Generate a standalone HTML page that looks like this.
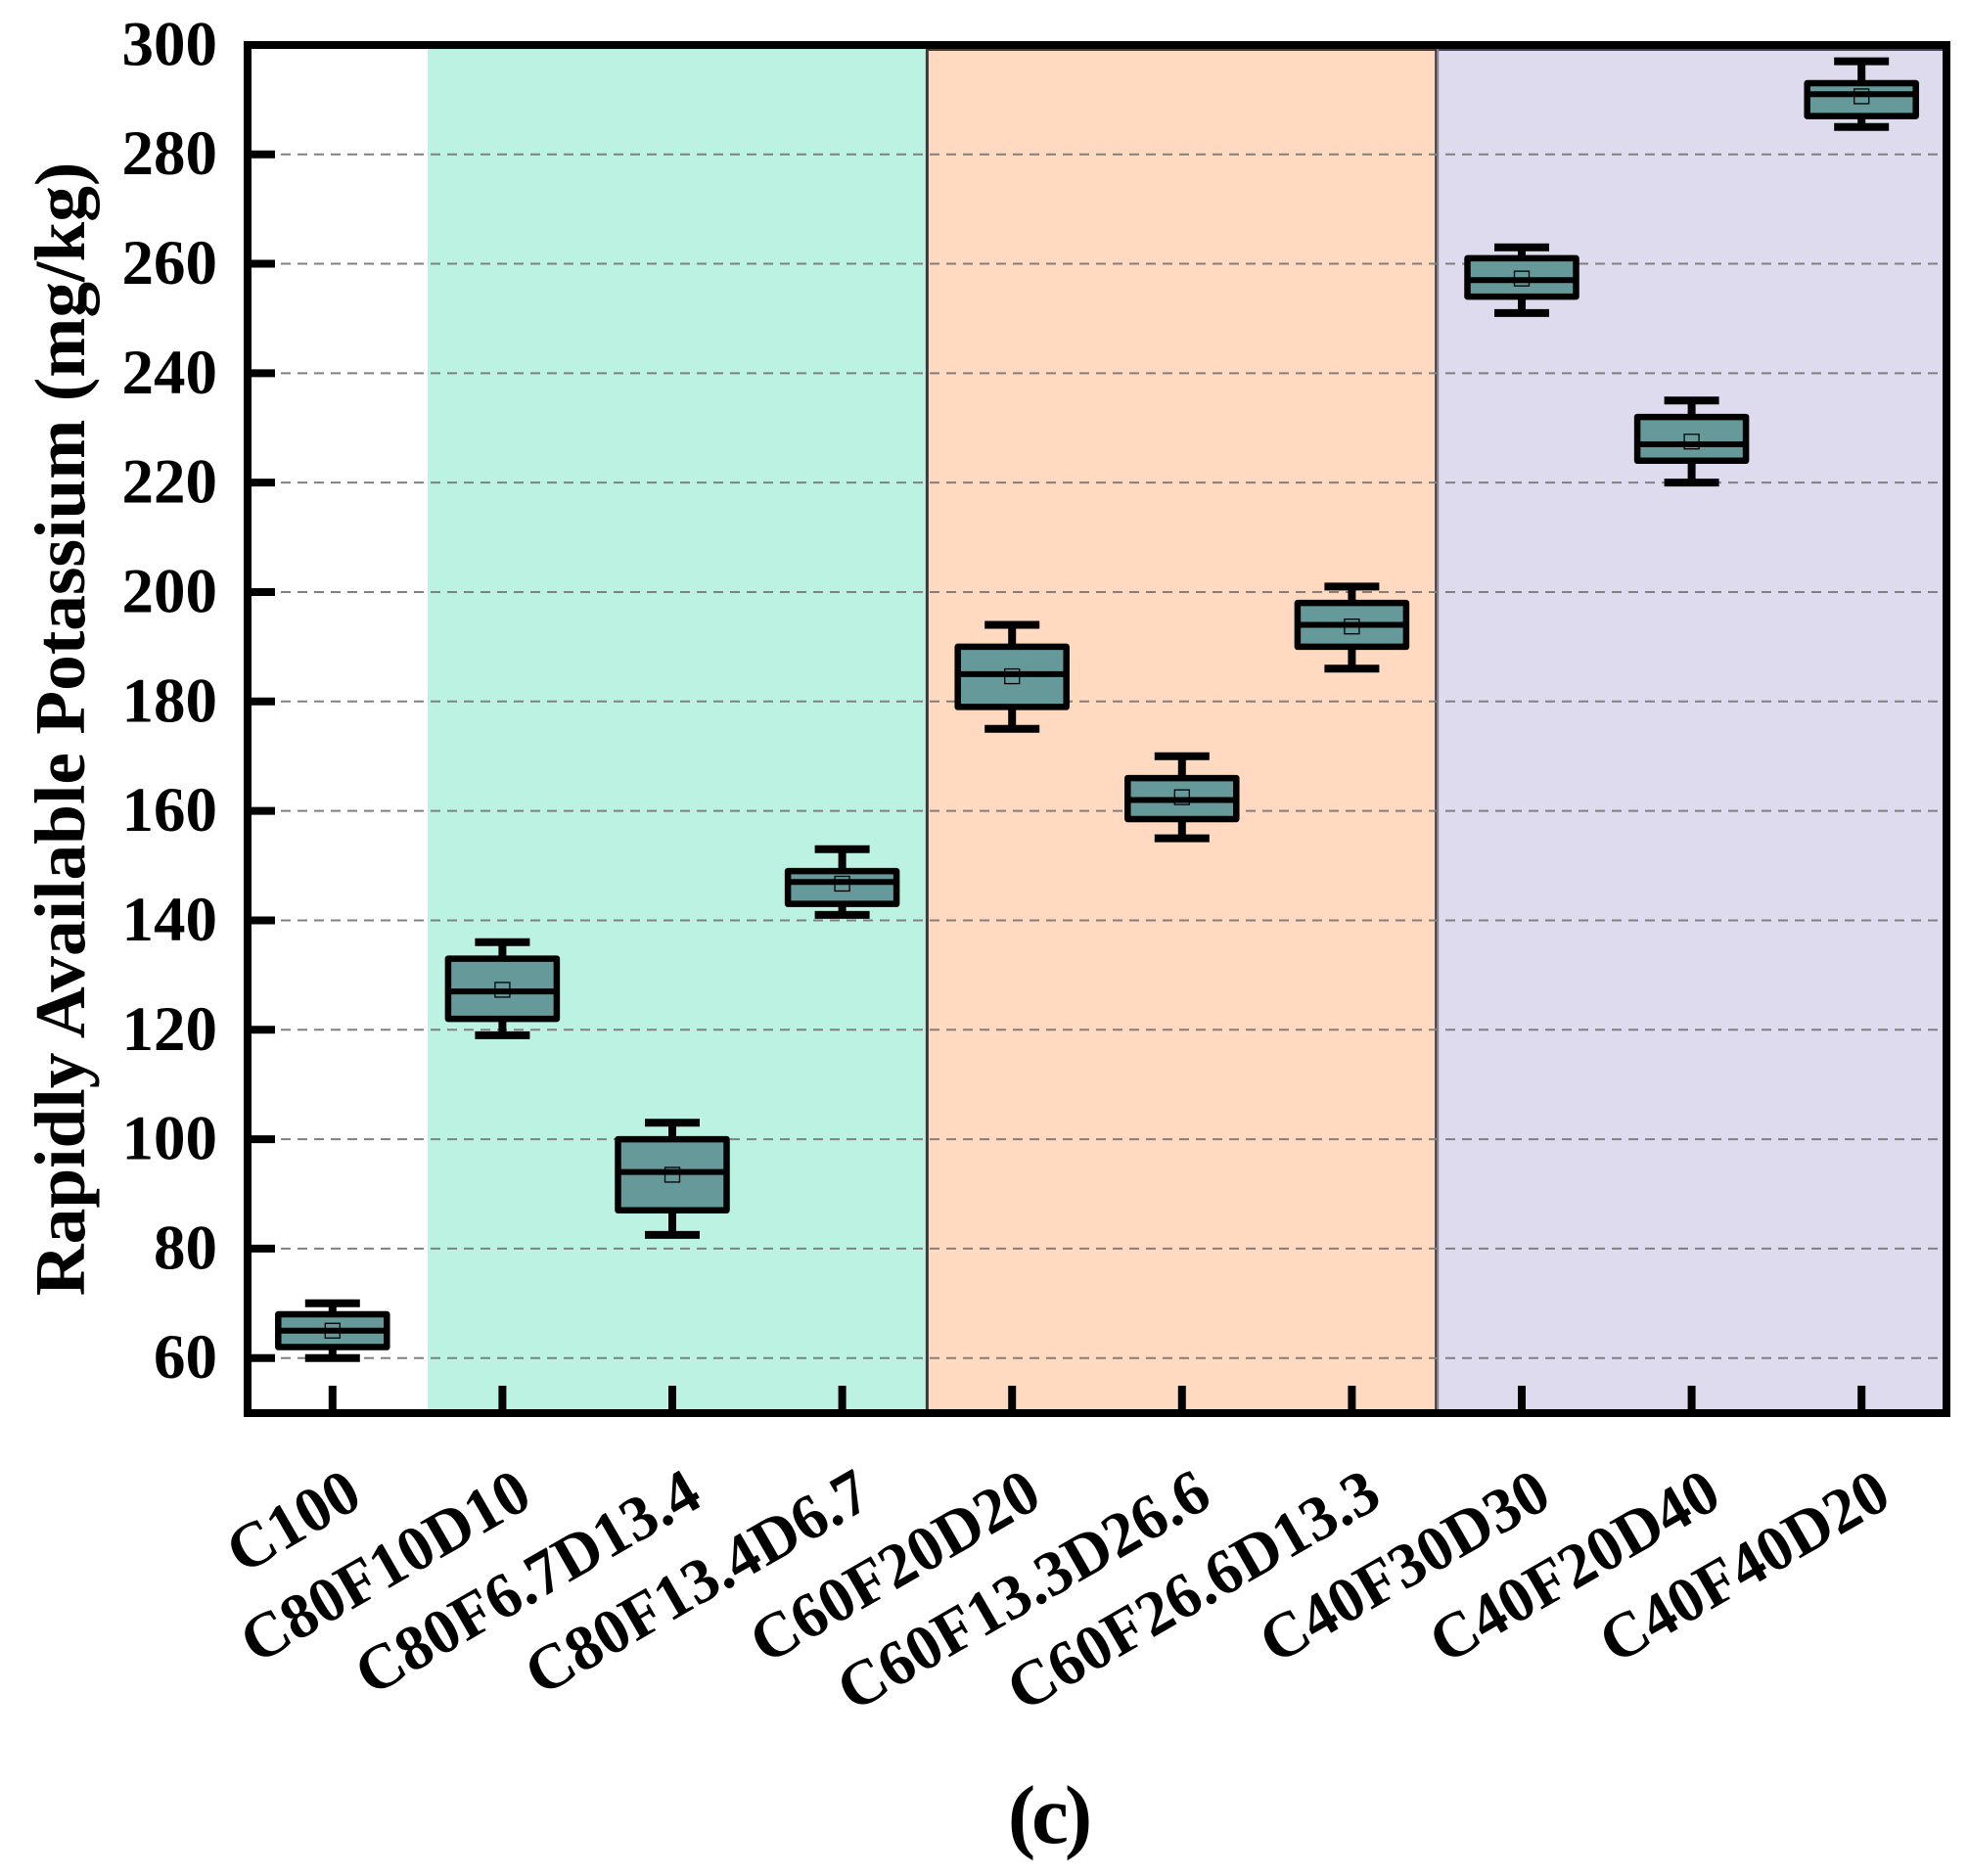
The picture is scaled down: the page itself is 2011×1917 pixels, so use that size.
<!DOCTYPE html>
<html lang="en">
<head>
<meta charset="utf-8">
<title>Rapidly Available Potassium box plot</title>
<style>
  html, body { margin: 0; padding: 0; background: #ffffff; }
  body { width: 2011px; height: 1917px; overflow: hidden; }
  svg { display: block; }
  text { font-family: "Liberation Serif", serif; font-weight: bold; fill: #000000; }
</style>
</head>
<body>
<svg id="chart" xmlns="http://www.w3.org/2000/svg" width="2011" height="1917" viewBox="0 0 2011 1917"></svg>
<script>
const categories = ["C100", "C80F10D10", "C80F6.7D13.4", "C80F13.4D6.7", "C60F20D20", "C60F13.3D26.6", "C60F26.6D13.3", "C40F30D30", "C40F20D40", "C40F40D20"];
const whiskerHigh = [70, 136, 103, 153, 194, 170, 201, 263, 235, 297];
const whiskerLow = [60, 119, 82.5, 141, 175, 155, 186, 251, 220, 285];
const boxTop = [68, 133, 100, 149, 190, 166, 198, 261, 232, 293];
const boxBottom = [62, 122, 87, 143, 179, 158.5, 190, 254, 224, 287];
const medians = [65, 127, 94, 147, 185, 162, 194, 257, 227, 291];
const means = [65, 127.3, 93.5, 146.7, 184.6, 162.5, 193.7, 257.3, 227.5, 290.6];
const yTicks = [60, 80, 100, 120, 140, 160, 180, 200, 220, 240, 260, 280, 300];

const svg = document.getElementById('chart');
const NS = 'http://www.w3.org/2000/svg';

function xScale(i) { return 339.8 + 173.6 * i; }
function yScale(v) { return 157.7 + (280 - v) * 5.591; }

function make(tag, attrs, parent) {
  const el = document.createElementNS(NS, tag);
  for (const k in attrs) el.setAttribute(k, attrs[k]);
  (parent || svg).appendChild(el);
  return el;
}

const plotTop = yScale(300);
const plotBottom = yScale(50);

/* treatment-group background bands, bounded in category units */
const zoneGreen = make('rect', { x: xScale(0.56), y: plotTop, width: xScale(3.5) - xScale(0.56), height: plotBottom - plotTop, fill: '#bcf2e2' });



const zoneOrange = make('rect', { x: xScale(3.5), y: plotTop, width: xScale(6.5) - xScale(3.5), height: plotBottom - plotTop, fill: '#ffdac0' });



const zonePurple = make('rect', { x: xScale(6.5), y: plotTop, width: xScale(9.5) - xScale(6.5), height: plotBottom - plotTop, fill: '#dedbee' });



const orangeTopEdge = make('rect', { x: xScale(3.5), y: 50, width: xScale(6.5) - xScale(3.5), height: 2, fill: '#4a3f38' });



const purpleTopEdge = make('rect', { x: xScale(6.5), y: 50, width: xScale(9.5) - xScale(6.5), height: 2, fill: '#47454f' });



const divider1 = make('rect', { x: xScale(3.5) - 1.5, y: plotTop, width: 3, height: plotBottom - plotTop, fill: '#3c3a38' });



const divider2 = make('rect', { x: xScale(6.5) - 2, y: plotTop, width: 2, height: plotBottom - plotTop, fill: '#3c3a38' });



const divider2b = make('rect', { x: xScale(6.5), y: plotTop, width: 2, height: plotBottom - plotTop, fill: '#87828f' });



/* gridlines + y ticks + y labels */
yTicks.forEach(function (v) {
  const y = yScale(v);
  if (v < 300) {
    const grid = make('line', { x1: 287, x2: 1985, y1: y, y2: y, stroke: '#808080', 'stroke-width': 2, 'stroke-dasharray': '10 7' });
    
    
    const tick = make('line', { x1: 257, x2: 281, y1: y, y2: y, stroke: '#000', 'stroke-width': 8 });
    
    
  }
  const label = make('text', { x: 222, y: y + 20.5, 'text-anchor': 'end', 'font-size': 65 });
  label.textContent = String(v);
  
  
});

/* x ticks + labels */
categories.forEach(function (name, i) {
  const x = xScale(i);
  const tick = make('line', { x1: x, x2: x, y1: 1440, y2: 1416, stroke: '#000', 'stroke-width': 8 });
  
  
  const lx = x + 33;
  const ly = 1537;
  const label = make('text', { x: lx, y: ly, 'text-anchor': 'end', 'font-size': 65, transform: 'rotate(-30 ' + lx + ' ' + ly + ')' });
  label.textContent = name;
  
  
});

/* boxes */
categories.forEach(function (name, i) {
  const x = xScale(i);
  const g = make('g', {});
  
  

  const stemUp = make('line', { x1: x, x2: x, y1: yScale(whiskerHigh[i]), y2: yScale(boxTop[i]), stroke: '#000', 'stroke-width': 8 }, g);
  
  

  const stemDown = make('line', { x1: x, x2: x, y1: yScale(whiskerLow[i]), y2: yScale(boxBottom[i]), stroke: '#000', 'stroke-width': 8 }, g);
  
  

  const capUp = make('line', { x1: x - 28, x2: x + 28, y1: yScale(whiskerHigh[i]), y2: yScale(whiskerHigh[i]), stroke: '#000', 'stroke-width': 8 }, g);
  
  

  const capDown = make('line', { x1: x - 28, x2: x + 28, y1: yScale(whiskerLow[i]), y2: yScale(whiskerLow[i]), stroke: '#000', 'stroke-width': 8 }, g);
  
  

  const box = make('rect', { x: x - 55.5, y: yScale(boxTop[i]), width: 111, height: yScale(boxBottom[i]) - yScale(boxTop[i]), fill: '#669999', stroke: '#000', 'stroke-width': 6.5, 'stroke-linejoin': 'round' }, g);
  
  

  const med = make('line', { x1: x - 55.5, x2: x + 55.5, y1: yScale(medians[i]), y2: yScale(medians[i]), stroke: '#000', 'stroke-width': 6 }, g);
  
  

  const mean = make('rect', { x: x - 7.5, y: yScale(means[i]) - 7.5, width: 15, height: 15, fill: 'none', stroke: '#000', 'stroke-width': 1.3 }, g);
  
  
});

/* axes frame */
const frame = make('rect', { x: 253, y: 46, width: 1736, height: 1398, fill: 'none', stroke: '#000', 'stroke-width': 8 });



/* titles */
const yTitle = make('text', { x: 86, y: 745, 'text-anchor': 'middle', 'font-size': 73.4, transform: 'rotate(-90 86 745)' });
yTitle.textContent = 'Rapidly Available Potassium (mg/kg)';



const panel = make('text', { x: 1071, y: 1883, 'text-anchor': 'middle', 'font-size': 85, 'letter-spacing': '-4' });
panel.textContent = '(c)';


</script>
</body>
</html>
